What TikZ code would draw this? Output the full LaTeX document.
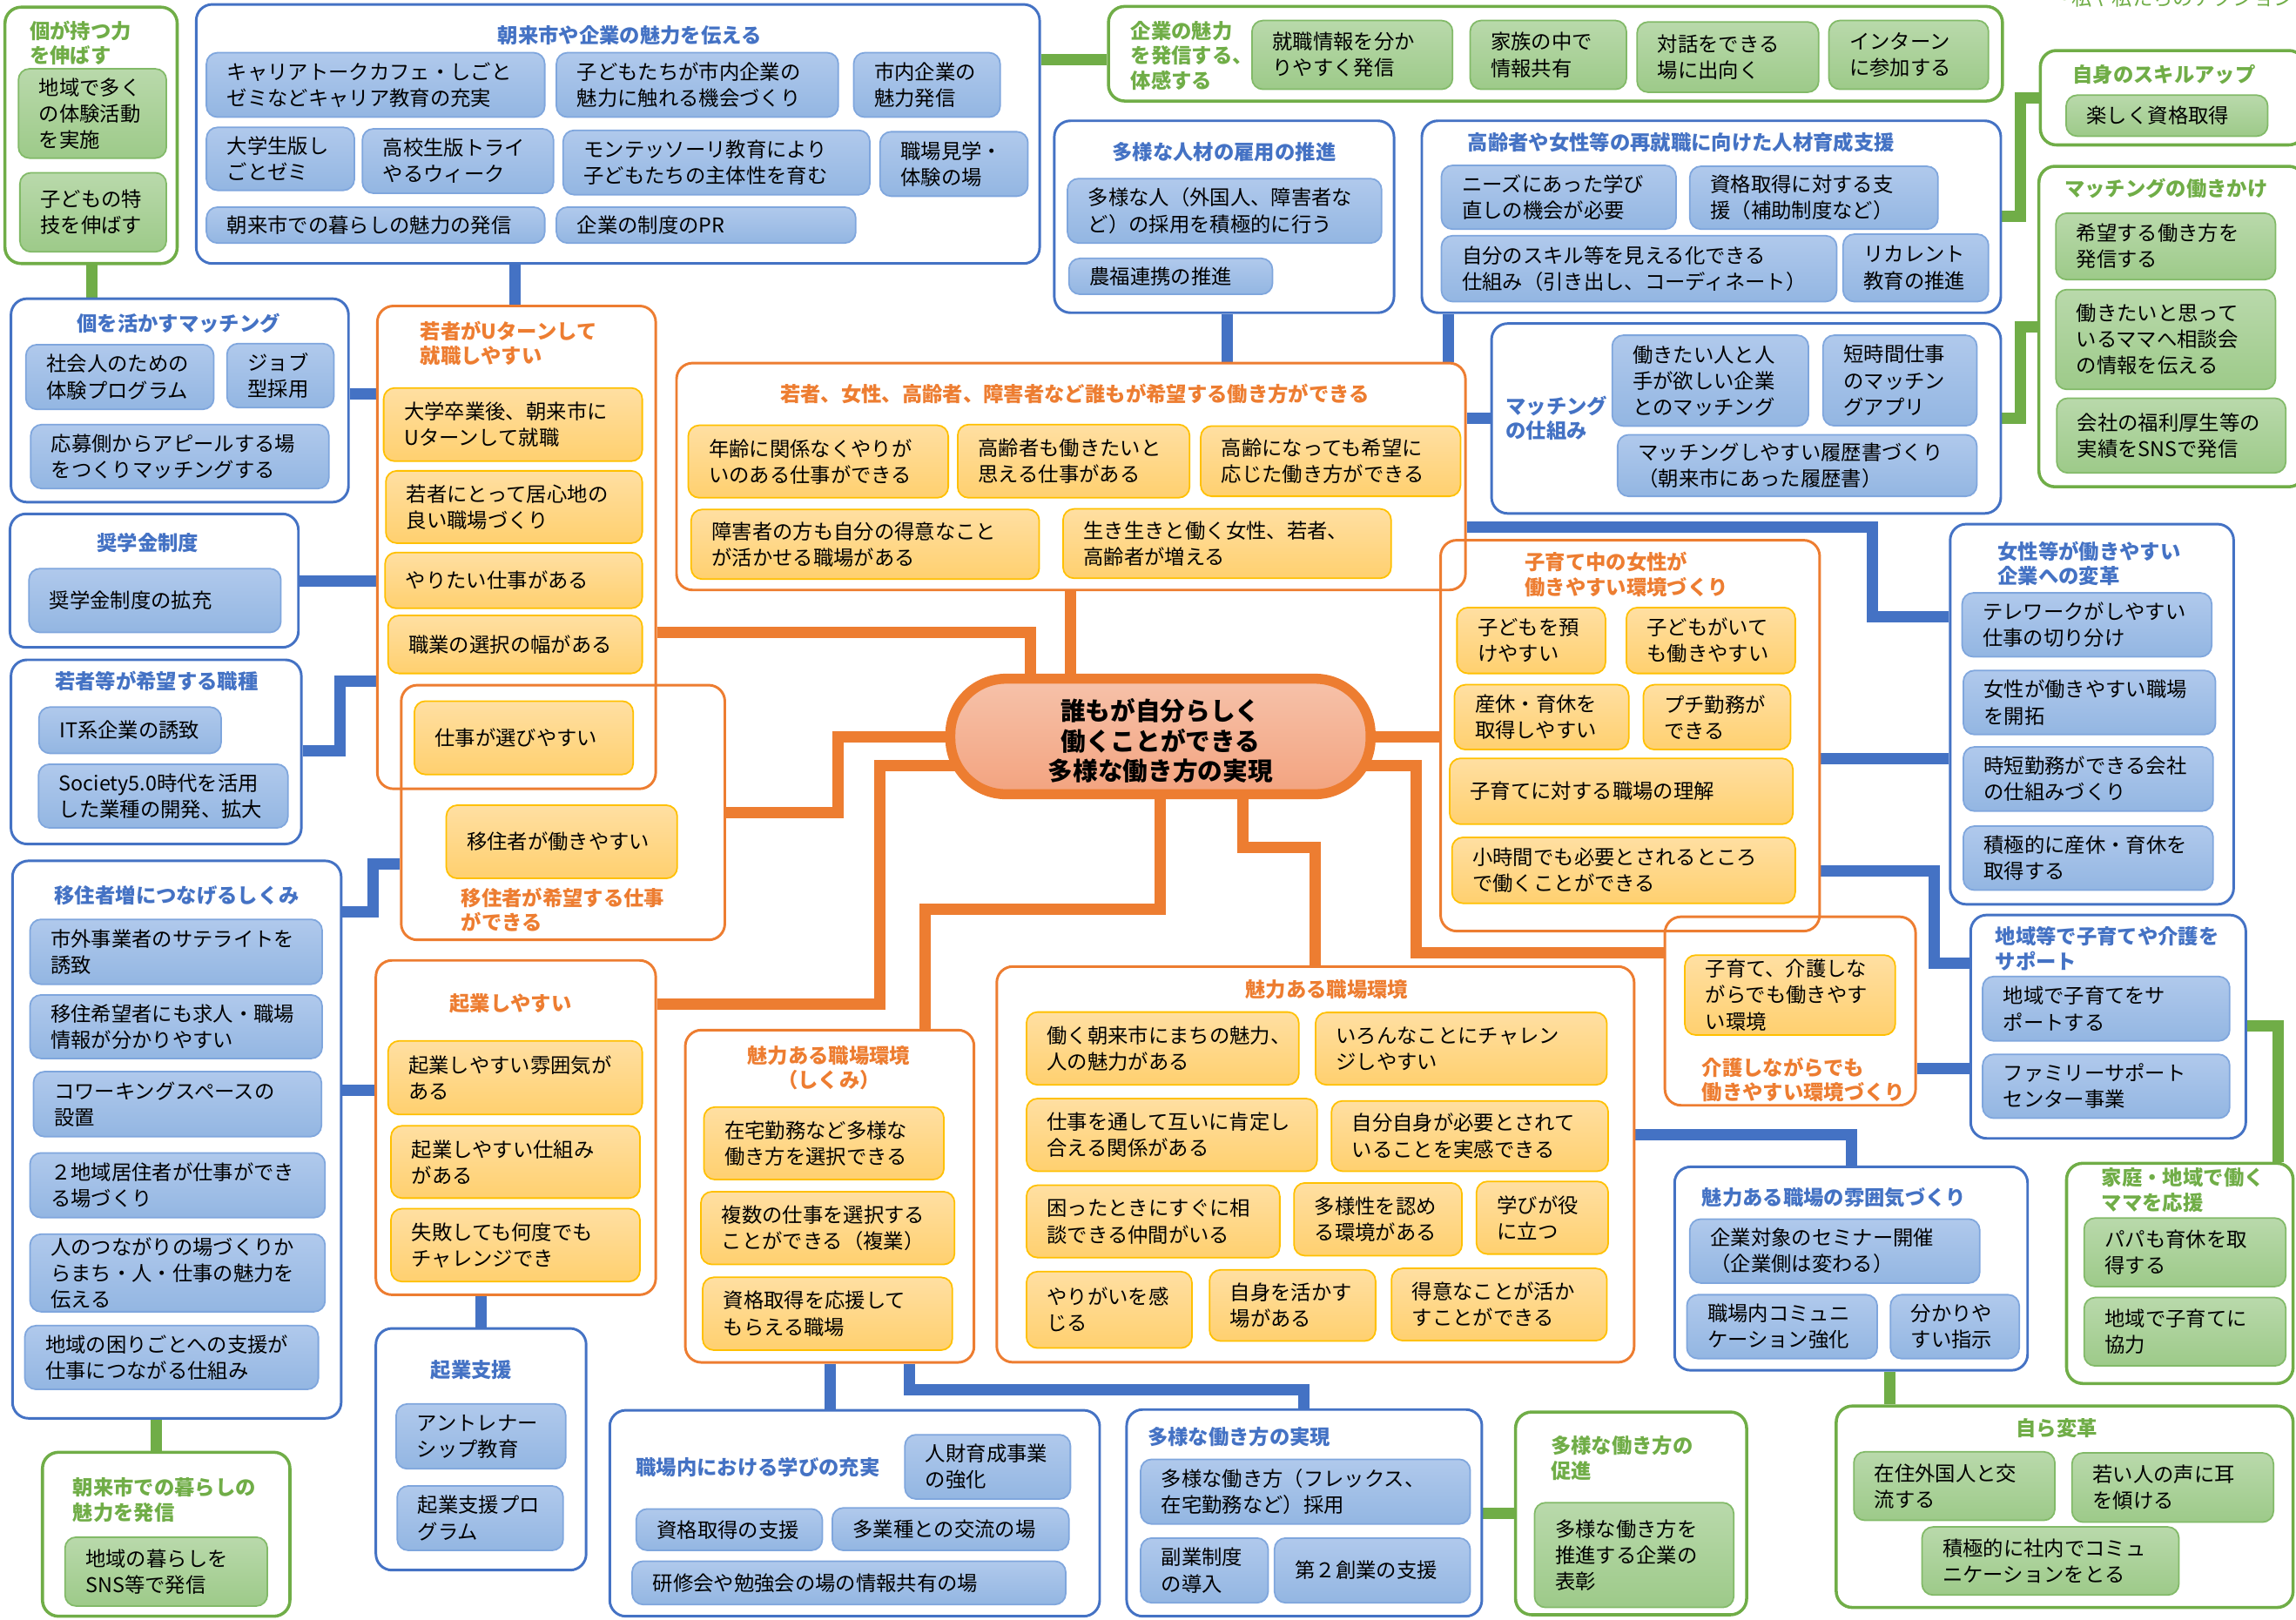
\documentclass[tikz,border=0pt]{standalone}
\usepackage{fontspec}
\setmainfont{Noto Sans CJK JP}
\usetikzlibrary{fit,backgrounds}

\definecolor{accblue}{HTML}{4472C4}
\definecolor{accorange}{HTML}{ED7D31}
\definecolor{accgreen}{HTML}{70AD47}
\definecolor{bluetop}{HTML}{B0C9EC}
\definecolor{bluebot}{HTML}{93B6E2}
\definecolor{blueedge}{HTML}{7FA6DD}
\definecolor{yeltop}{HTML}{FFDFA2}
\definecolor{yelbot}{HTML}{FFD06F}
\definecolor{yeledge}{HTML}{FFC000}
\definecolor{greentop}{HTML}{B9D9AB}
\definecolor{greenbot}{HTML}{9DCA89}
\definecolor{greenedge}{HTML}{82BA68}
\definecolor{goaltop}{HTML}{F6C2AA}
\definecolor{goalbot}{HTML}{F3A37F}

\newcommand{\cellfont}{\fontsize{7.9pt}{10.2pt}\selectfont}
\newcommand{\titlefont}{\bfseries\fontsize{7.9pt}{9.6pt}\selectfont}
\newcommand{\goalfont}{\bfseries\fontsize{9.7pt}{11.7pt}\selectfont}

% one item box: style, name, x1, y1, x2, y2, text
\newcommand{\boxcell}[7]{%
  \pgfmathsetlengthmacro\cellw{(#5-#3)*0.02cm}%
  \pgfmathsetlengthmacro\cellh{(#6-#4)*0.02cm}%
  \pgfmathsetlengthmacro\celltw{(#5-#3)*0.02cm-16pt}%
  \pgfmathsetmacro\cellx{(#3+#5)/2}%
  \pgfmathsetmacro\celly{(#4+#6)/2}%
  \node[#1, minimum width=\cellw, minimum height=\cellh, text width=\celltw]
    (#2) at (\cellx,\celly) {#7};}

\tikzset{
  grp/.style={draw, rounded corners=0.22cm, line width=1pt, inner sep=0pt},
  bgrp/.style={grp, draw=accblue},
  ogrp/.style={grp, draw=accorange},
  ggrp/.style={grp, draw=accgreen, line width=1.2pt},
  cellbase/.style={rounded corners=0.15cm, line width=0.6pt, inner sep=0pt,
    align=left, font=\cellfont, text=black},
  bcell/.style={cellbase, draw=blueedge, top color=bluetop, bottom color=bluebot},
  ycell/.style={cellbase, draw=yeledge, top color=yeltop, bottom color=yelbot},
  gcell/.style={cellbase, draw=greenedge, top color=greentop, bottom color=greenbot},
  titlebase/.style={font=\titlefont, align=left, inner sep=0pt},
  btitle/.style={titlebase, text=accblue},
  otitle/.style={titlebase, text=accorange},
  gtitle/.style={titlebase, text=accgreen},
  conn/.style={line width=4.4pt},
  bline/.style={conn, draw=accblue},
  oline/.style={conn, draw=accorange},
  gline/.style={conn, draw=accgreen},
  goal/.style={draw=accorange, line width=3.9pt, rounded corners=0.76cm,
    top color=goaltop, bottom color=goalbot, inner sep=0pt},
  goaltext/.style={align=center, font=\goalfont, text=black, inner sep=0pt}
}

\begin{document}
\begin{tikzpicture}[x=0.02cm, y=-0.02cm]
\useasboundingbox (0,0) rectangle (1568,1106);

% groups
\node[ggrp, fit={(3.4,4.9) (121,180)}] (kojinryoku) {};
\node[bgrp, fit={(134,3) (710,180)}] (miryokuPR) {};
\node[ggrp, fit={(757,4.4) (1367.5,69)}] (kigyoHasshin) {};
\node[bgrp, fit={(720,82.5) (952,213.6)}] (tayoJinzai) {};
\node[bgrp, fit={(971,82.5) (1366.4,213.6)}] (saishushoku) {};
\node[ggrp, fit={(1393.4,34.5) (1574,99)}] (skillup) {};
\node[ggrp, fit={(1392.4,113.6) (1574,332.5)}] (matchHataraki) {};
\node[bgrp, fit={(7.5,204) (238,343)}] (koMatching) {};
\node[ogrp, fit={(257.7,209) (447.8,538.8)}] (uturn) {};
\node[ogrp, fit={(462,248) (1000.8,403)}] (kibou) {};
\node[bgrp, fit={(1018.6,221) (1366.4,350.7)}] (matchShikumi) {};
\node[bgrp, fit={(6.8,351) (203.8,442.2)}] (shogakukin) {};
\node[bgrp, fit={(7.5,450.7) (205.8,576.5)}] (shokushu) {};
\node[ogrp, fit={(274,468) (495,642)}] (ijuShigoto) {};
\node[bgrp, fit={(8.5,588) (233,968.8)}] (ijuShikumi) {};
\node[ggrp, fit={(29,992) (198,1104)}] (kurashi) {};
\node[ogrp, fit={(256.7,656) (447.8,884.4)}] (kigyo) {};
\node[bgrp, fit={(256.7,907.4) (400.3,1072.5)}] (kigyoShien) {};
\node[ogrp, fit={(468,703.6) (665.2,930.6)}] (shikumi) {};
\node[bgrp, fit={(416.4,963.3) (751,1104)}] (manabi) {};
\node[bgrp, fit={(769.4,962.8) (1012,1104)}] (tayoJitsugen) {};
\node[ggrp, fit={(1035,964.5) (1192.8,1103)}] (tayoSokushin) {};
\node[ogrp, fit={(680.7,660.2) (1116,930.5)}] (shokuba) {};
\node[ogrp, fit={(983.8,369) (1242.7,636)}] (kosodate) {};
\node[ogrp, fit={(1137,626.2) (1308.2,755)}] (kaigo) {};
\node[bgrp, fit={(1331.8,358) (1525.4,617.7)}] (josei) {};
\node[bgrp, fit={(1345.8,625) (1533.7,777.6)}] (chiiki) {};
\node[ggrp, fit={(1411.3,794.6) (1566,945)}] (mama) {};
\node[bgrp, fit={(1143.6,797) (1384.7,936)}] (funiki) {};
\node[ggrp, fit={(1254,960.4) (1566,1098)}] (mizukara) {};

% centre
\node[goal, fit={(649,463.6) (936,542.5)}] (goal) {};
\node[goaltext, yshift=-1.7pt] (goalT) at (goal.center) {誰もが自分らしく\\働くことができる\\多様な働き方の実現};

% group titles
\node[gtitle, anchor=west] (kojinryokuT) at (20,29.5) {個が持つ力\\を伸ばす};
\node[btitle] (miryokuPRT) at (430,24) {朝来市や企業の魅力を伝える};
\node[gtitle, anchor=west] (kigyoHasshinT) at (772,38) {企業の魅力\\を発信する、\\体感する};
\node[btitle] (tayoJinzaiT) at (836,104) {多様な人材の雇用の推進};
\node[btitle, anchor=west] (saishushokuT) at (1002,97) {高齢者や女性等の再就職に向けた人材育成支援};
\node[gtitle, anchor=west] (skillupT) at (1415,51) {自身のスキルアップ};
\node[gtitle, anchor=west] (matchHatarakiT) at (1409.6,128.6) {マッチングの働きかけ};
\node[btitle] (koMatchingT) at (122,221) {個を活かすマッチング};
\node[otitle, anchor=west] (uturnT) at (286.7,234.5) {若者がUターンして\\就職しやすい};
\node[otitle] (kibouT) at (734,269) {若者、女性、高齢者、障害者など誰もが希望する働き方ができる};
\node[btitle, anchor=west] (matchShikumiT) at (1028,285.5) {マッチング\\の仕組み};
\node[btitle] (shogakukinT) at (101,371) {奨学金制度};
\node[btitle] (shokushuT) at (107,465.5) {若者等が希望する職種};
\node[otitle, anchor=west] (ijuShigotoT) at (314.7,621.5) {移住者が希望する仕事\\ができる};
\node[btitle] (ijuShikumiT) at (120.8,611.6) {移住者増につなげるしくみ};
\node[gtitle, anchor=west] (kurashiT) at (49.5,1024.5) {朝来市での暮らしの\\魅力を発信};
\node[otitle] (kigyoT) at (348.7,685.7) {起業しやすい};
\node[btitle] (kigyoShienT) at (322,936) {起業支援};
\node[otitle, align=center] (shikumiT) at (566,729.4) {魅力ある職場環境\\（しくみ）};
\node[btitle, anchor=west] (manabiT) at (434,1002) {職場内における学びの充実};
\node[btitle, anchor=west] (tayoJitsugenT) at (783.4,981.5) {多様な働き方の実現};
\node[gtitle, anchor=west] (tayoSokushinT) at (1058.8,996) {多様な働き方の\\促進};
\node[otitle] (shokubaT) at (906,676) {魅力ある職場環境};
\node[otitle, anchor=west] (kosodateT) at (1041,392.5) {子育て中の女性が\\働きやすい環境づくり};
\node[otitle, anchor=west] (kaigoT) at (1162,737.5) {介護しながらでも\\働きやすい環境づくり};
\node[btitle, anchor=west] (joseiT) at (1364,385) {女性等が働きやすい\\企業への変革};
\node[btitle, anchor=west] (chiikiT) at (1362.4,648) {地域等で子育てや介護を\\サポート};
\node[gtitle, anchor=west] (mamaT) at (1435,813) {家庭・地域で働く\\ママを応援};
\node[btitle, anchor=west] (funikiT) at (1162,818) {魅力ある職場の雰囲気づくり};
\node[gtitle] (mizukaraT) at (1404.5,975.4) {自ら変革};
\node[font=\cellfont, text=accgreen, inner sep=0pt, anchor=base east] (action) at (1567,4) {～私や私たちのアクション};

% items
\boxcell{gcell}{kojinryoku1}{12.6}{47}{113.6}{108}{地域で多く\\の体験活動\\を実施}
\boxcell{gcell}{kojinryoku2}{13.6}{118}{113.6}{172}{子どもの特\\技を伸ばす}

\boxcell{bcell}{miryokuPR1}{141}{36}{372}{80}{キャリアトークカフェ・しごと\\ゼミなどキャリア教育の充実}
\boxcell{bcell}{miryokuPR2}{380}{36}{572.5}{80}{子どもたちが市内企業の\\魅力に触れる機会づくり}
\boxcell{bcell}{miryokuPR3}{583}{36}{683}{80}{市内企業の\\魅力発信}
\boxcell{bcell}{miryokuPR4}{141}{87}{242}{130}{大学生版し\\ごとゼミ}
\boxcell{bcell}{miryokuPR5}{247.5}{88}{378}{132}{高校生版トライ\\やるウィーク}
\boxcell{bcell}{miryokuPR6}{384.6}{89}{594}{133}{モンテッソーリ教育により\\子どもたちの主体性を育む}
\boxcell{bcell}{miryokuPR7}{601}{90}{702}{134}{職場見学・\\体験の場}
\boxcell{bcell}{miryokuPR8}{141}{141.5}{372}{166}{朝来市での暮らしの魅力の発信}
\boxcell{bcell}{miryokuPR9}{380}{141.5}{584.4}{166}{企業の制度のPR}

\boxcell{gcell}{kigyoHasshin1}{855}{14}{992}{61}{就職情報を分か\\りやすく発信}
\boxcell{gcell}{kigyoHasshin2}{1004}{14}{1110.7}{61}{家族の中で\\情報共有}
\boxcell{gcell}{kigyoHasshin3}{1118}{15}{1242}{63}{対話をできる\\場に出向く}
\boxcell{gcell}{kigyoHasshin4}{1249}{14}{1358}{61}{インターン\\に参加する}

\boxcell{bcell}{tayoJinzai1}{729}{122}{943.5}{166}{多様な人（外国人、障害者な\\ど）の採用を積極的に行う}
\boxcell{bcell}{tayoJinzai2}{730}{176.5}{869}{201}{農福連携の推進}

\boxcell{bcell}{saishushoku1}{984.4}{113}{1144.6}{156.5}{ニーズにあった学び\\直しの機会が必要}
\boxcell{bcell}{saishushoku2}{1154}{113.6}{1323.5}{156.5}{資格取得に対する支\\援（補助制度など）}
\boxcell{bcell}{saishushoku3}{984.4}{161}{1254.3}{206}{自分のスキル等を見える化できる\\仕組み（引き出し、コーディネート）}
\boxcell{bcell}{saishushoku4}{1258.7}{160}{1358}{206}{リカレント\\教育の推進}

\boxcell{gcell}{skillup1}{1411}{65}{1548.7}{93}{楽しく資格取得}
\boxcell{gcell}{matchHataraki1}{1404}{145.6}{1554}{191}{希望する働き方を\\発信する}
\boxcell{gcell}{matchHataraki2}{1404}{197.8}{1554}{266}{働きたいと思って\\いるママへ相談会\\の情報を伝える}
\boxcell{gcell}{matchHataraki3}{1404.6}{272}{1561}{323}{会社の福利厚生等の\\実績をSNSで発信}

\boxcell{bcell}{koMatching1}{17.7}{235.4}{146}{279.6}{社会人のための\\体験プログラム}
\boxcell{bcell}{koMatching2}{155}{234.7}{228}{278.4}{ジョブ\\型採用}
\boxcell{bcell}{koMatching3}{21}{290}{224.6}{333.7}{応募側からアピールする場\\をつくりマッチングする}

\boxcell{ycell}{uturn1}{262}{265}{438.6}{315}{大学卒業後、朝来市に\\Uターンして就職}
\boxcell{ycell}{uturn2}{263.5}{321.6}{438.6}{371}{若者にとって居心地の\\良い職場づくり}
\boxcell{ycell}{uturn3}{263}{377.4}{438.6}{415.5}{やりたい仕事がある}
\boxcell{ycell}{uturn4}{265}{420.4}{438.6}{460}{職業の選択の幅がある}
\boxcell{ycell}{ijuShigoto1}{283}{478.9}{432.4}{529}{仕事が選びやすい}
\boxcell{ycell}{ijuShigoto2}{304.8}{550}{462.5}{600}{移住者が働きやすい}

\boxcell{ycell}{kibou1}{470}{290.5}{647.6}{340}{年齢に関係なくやりが\\いのある仕事ができる}
\boxcell{ycell}{kibou2}{654}{290}{812.4}{340}{高齢者も働きたいと\\思える仕事がある}
\boxcell{ycell}{kibou3}{820}{291}{997.4}{339}{高齢になっても希望に\\応じた働き方ができる}
\boxcell{ycell}{kibou4}{472}{348}{709.7}{395.6}{障害者の方も自分の得意なこと\\が活かせる職場がある}
\boxcell{ycell}{kibou5}{726}{347.6}{950}{395}{生き生きと働く女性、若者、\\高齢者が増える}

\boxcell{bcell}{matchShikumi1}{1101}{229}{1235}{291}{働きたい人と人\\手が欲しい企業\\とのマッチング}
\boxcell{bcell}{matchShikumi2}{1245}{229}{1350}{290.8}{短時間仕事\\のマッチン\\グアプリ}
\boxcell{bcell}{matchShikumi3}{1104.7}{297}{1350}{339}{マッチングしやすい履歴書づくり\\（朝来市にあった履歴書）}

\boxcell{bcell}{shogakukin1}{19.8}{388.4}{191.8}{432}{奨学金制度の拡充}
\boxcell{bcell}{shokushu1}{26.6}{483}{151}{514.6}{IT系企業の誘致}
\boxcell{bcell}{shokushu2}{26.3}{522}{196.6}{565.5}{Society5.0時代を活用\\した業種の開発、拡大}

\boxcell{bcell}{ijuShikumi1}{20.5}{628}{220}{672.3}{市外事業者のサテライトを\\誘致}
\boxcell{bcell}{ijuShikumi2}{20.5}{679.6}{220}{723}{移住希望者にも求人・職場\\情報が分かりやすい}
\boxcell{bcell}{ijuShikumi3}{22.9}{732}{219.5}{776.4}{コワーキングスペースの\\設置}
\boxcell{bcell}{ijuShikumi4}{20.5}{787.5}{222}{831.7}{２地域居住者が仕事ができ\\る場づくり}
\boxcell{bcell}{ijuShikumi5}{20.5}{843}{222}{896}{人のつながりの場づくりか\\らまち・人・仕事の魅力を\\伝える}
\boxcell{bcell}{ijuShikumi6}{17}{905.5}{217.4}{949}{地域の困りごとへの支援が\\仕事につながる仕組み}
\boxcell{gcell}{kurashi1}{44.4}{1050}{182.6}{1097}{地域の暮らしを\\SNS等で発信}

\boxcell{ycell}{kigyo1}{265}{711}{438.6}{761.3}{起業しやすい雰囲気が\\ある}
\boxcell{ycell}{kigyo2}{267}{769}{437}{818.4}{起業しやすい仕組み\\がある}
\boxcell{ycell}{kigyo3}{267}{825.6}{437}{875.4}{失敗しても何度でも\\チャレンジでき}
\boxcell{bcell}{kigyoShien1}{270.6}{959}{386.3}{1003.3}{アントレナー\\シップ教育}
\boxcell{bcell}{kigyoShien2}{271.3}{1015}{384.6}{1059}{起業支援プロ\\グラム}

\boxcell{ycell}{shikumi1}{480.7}{756.2}{644.6}{805.7}{在宅勤務など多様な\\働き方を選択できる}
\boxcell{ycell}{shikumi2}{478.7}{814}{651.9}{863.7}{複数の仕事を選択する\\ことができる（複業）}
\boxcell{ycell}{shikumi3}{479.9}{872.5}{650.3}{922.2}{資格取得を応援して\\もらえる職場}

\boxcell{bcell}{manabi1}{618}{980}{731}{1023.9}{人財育成事業\\の強化}
\boxcell{bcell}{manabi2}{434.5}{1030.7}{561.6}{1059}{資格取得の支援}
\boxcell{bcell}{manabi3}{568.4}{1030}{730}{1059}{多業種との交流の場}
\boxcell{bcell}{manabi4}{431.7}{1066.4}{727.8}{1096}{研修会や勉強会の場の情報共有の場}

\boxcell{bcell}{tayoJitsugen1}{779}{996.8}{1004}{1041}{多様な働き方（フレックス、\\在宅勤務など）採用}
\boxcell{bcell}{tayoJitsugen2}{779}{1050.6}{866}{1094.8}{副業制度\\の導入}
\boxcell{bcell}{tayoJitsugen3}{870.4}{1050.6}{1004}{1094.8}{第２創業の支援}
\boxcell{gcell}{tayoSokushin1}{1048}{1026.4}{1184}{1098}{多様な働き方を\\推進する企業の\\表彰}

\boxcell{ycell}{shokuba1}{701}{691.3}{887}{741}{働く朝来市にまちの魅力、\\人の魅力がある}
\boxcell{ycell}{shokuba2}{898.4}{691.6}{1097.4}{741}{いろんなことにチャレン\\ジしやすい}
\boxcell{ycell}{shokuba3}{701}{750.4}{899.5}{800}{仕事を通して互いに肯定し\\合える関係がある}
\boxcell{ycell}{shokuba4}{909.3}{752}{1098.3}{800}{自分自身が必要とされて\\いることを実感できる}
\boxcell{ycell}{shokuba5}{701}{809.6}{874}{859}{困ったときにすぐに相\\談できる仲間がいる}
\boxcell{ycell}{shokuba6}{883.7}{808}{998.4}{857.7}{多様性を認め\\る環境がある}
\boxcell{ycell}{shokuba7}{1008.3}{807}{1098.3}{856.6}{学びが役\\に立つ}
\boxcell{ycell}{shokuba8}{701}{868.6}{814}{920.8}{やりがいを感\\じる}
\boxcell{ycell}{shokuba9}{826}{867.4}{939.4}{916}{自身を活かす\\場がある}
\boxcell{ycell}{shokuba10}{950.3}{866.4}{1097.4}{915.7}{得意なことが活か\\すことができる}

\boxcell{ycell}{kosodate1}{995}{415}{1096.4}{460}{子どもを預\\けやすい}
\boxcell{ycell}{kosodate2}{1110.7}{415}{1226}{460}{子どもがいて\\も働きやすい}
\boxcell{ycell}{kosodate3}{993.3}{467.7}{1112.3}{512}{産休・育休を\\取得しやすい}
\boxcell{ycell}{kosodate4}{1122.3}{467.7}{1222.8}{512}{プチ勤務が\\できる}
\boxcell{ycell}{kosodate5}{990}{518}{1224.4}{563}{子育てに対する職場の理解}
\boxcell{ycell}{kosodate6}{991.6}{572}{1226}{617}{小時間でも必要とされるところ\\で働くことができる}
\boxcell{ycell}{kaigo1}{1150.6}{652.4}{1294.3}{707}{子育て、介護しな\\がらでも働きやす\\い環境}

\boxcell{bcell}{josei1}{1340}{405}{1510.4}{448.6}{テレワークがしやすい\\仕事の切り分け}
\boxcell{bcell}{josei2}{1340.8}{458}{1513}{501.7}{女性が働きやすい職場\\を開拓}
\boxcell{bcell}{josei3}{1340.8}{510.2}{1511.4}{554}{時短勤務ができる会社\\の仕組みづくり}
\boxcell{bcell}{josei4}{1340.8}{564.3}{1511.4}{608}{積極的に産休・育休を\\取得する}
\boxcell{bcell}{chiiki1}{1354}{667}{1522.7}{711}{地域で子育てをサ\\ポートする}
\boxcell{bcell}{chiiki2}{1354}{720.2}{1522.7}{763.8}{ファミリーサポート\\センター事業}
\boxcell{gcell}{mama1}{1423.3}{832}{1561}{878.8}{パパも育休を取\\得する}
\boxcell{gcell}{mama2}{1423.3}{886.3}{1561}{933}{地域で子育てに\\協力}

\boxcell{bcell}{funiki1}{1154}{832.7}{1352}{876.4}{企業対象のセミナー開催\\（企業側は変わる）}
\boxcell{bcell}{funiki2}{1152}{884.4}{1282}{928}{職場内コミュニ\\ケーション強化}
\boxcell{bcell}{funiki3}{1291}{884.4}{1379}{928}{分かりや\\すい指示}
\boxcell{gcell}{mizukara1}{1266}{991.7}{1403.3}{1038.5}{在住外国人と交\\流する}
\boxcell{gcell}{mizukara2}{1415}{992.4}{1552.6}{1039.7}{若い人の声に耳\\を傾ける}
\boxcell{gcell}{mizukara3}{1312.6}{1043}{1488}{1089.5}{積極的に社内でコミュ\\ニケーションをとる}

% connectors
\begin{scope}[on background layer]
\coordinate (cAG) at (63,0);
\coordinate (cBH) at (351.5,0);
\coordinate (cBC) at (0,41);
\coordinate (cDE) at (838,0);
\coordinate (cFE) at (989,0);
\coordinate (cGH) at (0,269);
\coordinate (cRH) at (0,397);
\coordinate (cSH1) at (232,513);
\coordinate (cSH2) at (232,465);
\coordinate (cTI1) at (254.5,623);
\coordinate (cTI2) at (254.5,590);
\coordinate (cTJ) at (0,745);
\coordinate (cTU) at (107,0);
\coordinate (cJV) at (328.5,0);
\coordinate (cKW) at (566.7,0);
\coordinate (cKX) at (621,949);
\coordinate (cXY) at (0,1034);
\coordinate (cLZ) at (1264.3,775);
\coordinate (cZAD) at (1290.5,0);
\coordinate (cMAB) at (0,730);
\coordinate (cABAC) at (1556,701);
\coordinate (cNAA) at (0,518);
\coordinate (cNAB1) at (1321,595);
\coordinate (cNAB2) at (1321,658);
\coordinate (cEAA1) at (1278.5,360);
\coordinate (cEAA2) at (1278.5,421);
\coordinate (cEO) at (0,286);
\coordinate (cFP1) at (1380,148);
\coordinate (cFP2) at (1380,67);
\coordinate (cOQ1) at (1380,286);
\coordinate (cOQ2) at (1380,223);

\draw[gline] (cAG |- kojinryoku.south) -- (cAG |- koMatching.north);
\draw[bline] (cBH |- miryokuPR.south) -- (cBH |- uturn.north);
\draw[gline] (cBC -| miryokuPR.east) -- (cBC -| kigyoHasshin.west);
\draw[bline] (cDE |- tayoJinzai.south) -- (cDE |- kibou.north);
\draw[bline] (cFE |- saishushoku.south) -- (cFE |- kibou.north);
\draw[bline] (cGH -| koMatching.east) -- (cGH -| uturn.west);
\draw[bline] (cRH -| shogakukin.east) -- (cRH -| uturn.west);
\draw[bline] (cSH1 -| shokushu.east) -- (cSH1) -- (cSH2) -- (cSH2 -| uturn.west);
\draw[bline] (cTI1 -| ijuShikumi.east) -- (cTI1) -- (cTI2) -- (cTI2 -| ijuShigoto.west);
\draw[bline] (cTJ -| ijuShikumi.east) -- (cTJ -| kigyo.west);
\draw[gline] (cTU |- ijuShikumi.south) -- (cTU |- kurashi.north);
\draw[bline] (cJV |- kigyo.south) -- (cJV |- kigyoShien.north);
\draw[bline] (cKW |- shikumi.south) -- (cKW |- manabi.north);
\draw[bline] (cKX |- shikumi.south) -- (cKX) -| (tayoJitsugen.north);
\draw[gline] (cXY -| tayoJitsugen.east) -- (cXY -| tayoSokushin.west);
\draw[bline] (cLZ -| shokuba.east) -- (cLZ) -- (cLZ |- funiki.north);
\draw[gline] (cZAD |- funiki.south) -- (cZAD |- mizukara.north);
\draw[bline] (cMAB -| kaigo.east) -- (cMAB -| chiiki.west);
\draw[gline] (cABAC -| chiiki.east) -- (cABAC) -- (cABAC |- mama.north);
\draw[bline] (cNAA -| kosodate.east) -- (cNAA -| josei.west);
\draw[bline] (cNAB1 -| kosodate.east) -- (cNAB1) -- (cNAB2) -- (cNAB2 -| chiiki.west);
\draw[bline] (cEAA1 -| kibou.east) -- (cEAA1) -- (cEAA2) -- (cEAA2 -| josei.west);
\draw[bline] (cEO -| kibou.east) -- (cEO -| matchShikumi.west);
\draw[gline] (cFP1 -| saishushoku.east) -- (cFP1) -- (cFP2) -- (cFP2 -| skillup.west);
\draw[gline] (cOQ1 -| matchShikumi.east) -- (cOQ1) -- (cOQ2) -- (cOQ2 -| matchHataraki.west);

% from the centre
\coordinate (cO1) at (704,432);
\coordinate (cO2) at (731,0);
\coordinate (cO3) at (572.5,555);
\coordinate (cO4a) at (601,523);
\coordinate (cO4b) at (601,686);
\coordinate (cO5) at (632,621);
\coordinate (cO6a) at (849,579);
\coordinate (cO6b) at (898,579);
\coordinate (cO7a) at (967,523);
\coordinate (cO7b) at (967,651);
\draw[oline] (cO1 -| uturn.east) -- (cO1) -- (cO1 |- goal.center);
\draw[oline] (cO2 |- kibou.south) -- (cO2 |- goal.center);
\draw[oline] (goal.center) -| (cO3) -- (cO3 -| ijuShigoto.east);
\draw[oline] (cO4a -| goal.center) -- (cO4a) -- (cO4b) -- (cO4b -| kigyo.east);
\draw[oline] (goal.center) |- (cO5) -- (cO5 |- shikumi.north);
\draw[oline] (cO6a |- goal.center) -- (cO6a) -- (cO6b) -- (cO6b |- shokuba.north);
\draw[oline] (cO7a -| goal.center) -- (cO7a) -- (cO7b) -- (cO7b -| kaigo.west);
\draw[oline] (goal.center) -- (goal.center -| kosodate.west);
\end{scope}
\end{tikzpicture}
\end{document}
